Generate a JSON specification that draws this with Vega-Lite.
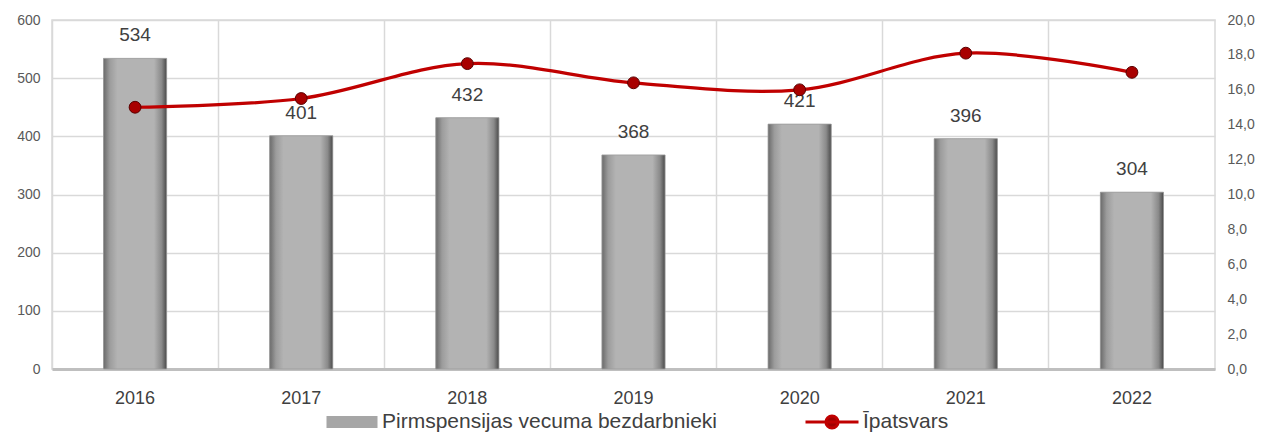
{
  "$schema": "https://vega.github.io/schema/vega-lite/v6.json",
  "width": 1163,
  "height": 349,
  "autosize": {"type": "none"},
  "padding": {"left": 52, "top": 20, "right": 51, "bottom": 63},
  "background": "white",
  "data": {
    "values": [
      {"year": "2016", "count": 534, "share": 15.0},
      {"year": "2017", "count": 401, "share": 15.5},
      {"year": "2018", "count": 432, "share": 17.5},
      {"year": "2019", "count": 368, "share": 16.4},
      {"year": "2020", "count": 421, "share": 16.0},
      {"year": "2021", "count": 396, "share": 18.1},
      {"year": "2022", "count": 304, "share": 17.0}
    ]
  },
  "config": {
    "view": {"stroke": "#d9d9d9", "strokeWidth": 1.5},
    "font": "Liberation Sans",
    "legend": {"labelFontSize": 21, "labelColor": "#404040", "labelFont": "Liberation Sans", "labelLimit": 0, "orient": "none", "direction": "vertical", "padding": 0}
  },
  "encoding": {
    "x": {
      "field": "year", "type": "ordinal",
      "scale": {"paddingInner": 0, "paddingOuter": 0},
      "axis": {"title": null, "labelAngle": 0, "labelFontSize": 18, "labelColor": "#404040", "labelPadding": 20, "ticks": false, "domainColor": "#bfbfbf", "domainWidth": 3, "grid": true, "gridColor": "#d9d9d9", "gridWidth": 1.5, "bandPosition": 0}
    }
  },
  "layer": [
    {
      "encoding": {
        "y": {"field": "count", "type": "quantitative", "scale": {"domain": [0, 600]},
          "axis": {"title": null, "values": [0, 100, 200, 300, 400, 500, 600], "labelFontSize": 14, "labelColor": "#595959", "labelPadding": 12, "ticks": false, "domain": false, "grid": true, "gridColor": "#d9d9d9", "gridWidth": 1.5}}
      },
      "layer": [
        {
          "mark": {"type": "bar", "width": {"band": 0.38}},
          "encoding": {
            "fill": {"datum": "Pirmspensijas vecuma bezdarbnieki", "type": "nominal", "scale": {"range": ["#a6a6a6"]},
              "legend": {"title": null, "legendX": 274, "legendY": 376, "labelOffset": 4, "symbolType": "M-1,-0.235H1V0.235H-1Z", "symbolSize": 2601, "symbolStrokeColor": "#7f7f7f", "symbolStrokeWidth": 1,
                "encode": {"symbols": {"update": {"fill": {"value": {"gradient": "linear", "x1": 0, "y1": 0, "x2": 0, "y2": 1,
                  "stops": [
                    {"offset": 0, "color": "#9a9a9a"},
                    {"offset": 0.3, "color": "#c4c4c4"},
                    {"offset": 0.7, "color": "#a6a6a6"},
                    {"offset": 1, "color": "#5a5a5a"}
                  ]}}}}}}}
          }
        },
        {
          "mark": {"type": "bar", "width": {"band": 0.38},
            "fill": {"gradient": "linear", "x1": 0, "y1": 0, "x2": 1, "y2": 0,
              "stops": [
                {"offset": 0, "color": "#6a6a6a"},
                {"offset": 0.1, "color": "#9c9c9c"},
                {"offset": 0.22, "color": "#b3b3b3"},
                {"offset": 0.8, "color": "#b3b3b3"},
                {"offset": 0.92, "color": "#8a8a8a"},
                {"offset": 1, "color": "#4a4a4a"}
              ]},
            "stroke": "#9a9a9a", "strokeWidth": 0.8}
        },
        {
          "mark": {"type": "text", "baseline": "bottom", "dy": -13, "fontSize": 19, "color": "#404040"},
          "encoding": {"text": {"field": "count", "type": "quantitative"}}
        }
      ]
    },
    {
      "encoding": {
        "y": {"field": "share", "type": "quantitative", "scale": {"domain": [0, 20]},
          "axis": {"orient": "right", "title": null, "values": [0, 2, 4, 6, 8, 10, 12, 14, 16, 18, 20], "labelExpr": "replace(format(datum.value, '.1f'), '.', ',')", "labelFontSize": 14, "labelColor": "#595959", "labelPadding": 12, "ticks": false, "domain": false, "grid": false}}
      },
      "layer": [
        {
          "mark": {"type": "line", "interpolate": "catmull-rom", "strokeWidth": 3.2},
          "encoding": {
            "stroke": {"datum": "Īpatsvars", "type": "nominal", "scale": {"range": ["#c00000"]},
              "legend": {"title": null, "legendX": 752, "legendY": 374, "labelOffset": 3, "symbolType": "M-1,0H1M-0.23,0A0.23,0.23,0,1,1,0.23,0A0.23,0.23,0,1,1,-0.23,0Z", "symbolSize": 2809, "symbolStrokeWidth": 3, "symbolFillColor": "#a00000"}}
          }
        },
        {
          "mark": {"type": "circle", "size": 140, "fill": "#a80000", "stroke": "#5a0000", "strokeWidth": 1, "opacity": 1}
        }
      ]
    }
  ],
  "resolve": {"scale": {"y": "independent"}}
}
